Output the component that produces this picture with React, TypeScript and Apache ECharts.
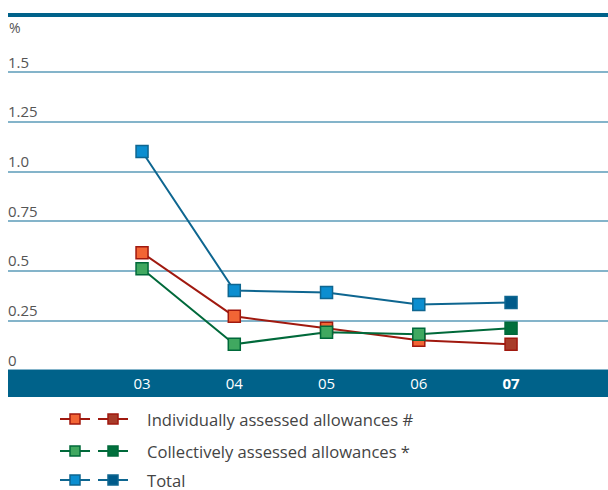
import React, { useEffect, useRef } from "react";
import * as echarts from "echarts";

const years = ["03", "04", "05", "06", "07"];
const yearPos = [3, 4, 5, 6, 7];
const individual = [0.59, 0.27, 0.21, 0.15, 0.13];
const collective = [0.51, 0.13, 0.19, 0.18, 0.21];
const total = [1.1, 0.4, 0.39, 0.33, 0.34];
const yTickLabels = ["0", "0.25", "0.5", "0.75", "1.0", "1.25", "1.5"];
const legendNames = [
  "Individually assessed allowances #",
  "Collectively assessed allowances *",
  "Total",
];

const BAND = "#00628a";
const FONT = "'Open Sans', 'Noto Sans', sans-serif";

const styles = [
  { line: "#a0190f", light: "#f26535", dark: "#a83c2a" },
  { line: "#00693a", light: "#40a860", dark: "#00703c" },
  { line: "#0e6690", light: "#0b8ed0", dark: "#005b8a" },
];

function makeSeries(name: string, values: number[], st: { line: string; light: string; dark: string }) {
  return {
    name,
    type: "line",
    symbol: "rect",
    symbolSize: 12,
    lineStyle: { color: st.line, width: 2 },
    itemStyle: { color: st.light, borderColor: st.line, borderWidth: 1.5 },
    data: values.map((v, i) => ({
      value: [yearPos[i], v],
      itemStyle: i === values.length - 1 ? { color: st.dark, borderColor: st.line, borderWidth: 1.5 } : undefined,
    })),
    z: 3,
  };
}

function legendItem(idx: number, y: number) {
  const st = styles[idx];
  const icon = (cx: number, fill: string) => [
    { type: "line", shape: { x1: cx - 15, y1: y, x2: cx + 15, y2: y }, style: { stroke: st.line, lineWidth: 2 } },
    { type: "rect", shape: { x: cx - 5, y: y - 5, width: 10, height: 10 }, style: { fill, stroke: st.line, lineWidth: 1.5 } },
  ];
  return [
    ...icon(75, st.light),
    ...icon(113, st.dark),
    {
      type: "text",
      x: 147,
      y,
      style: { text: legendNames[idx], fill: "#444", font: `16.6px ${FONT}`, verticalAlign: "middle" },
    },
  ];
}

export default function App() {
  const ref = useRef<HTMLDivElement>(null);
  useEffect(() => {
    if (!ref.current) return;
    const chart = echarts.init(ref.current, null, { renderer: "svg" });
    chart.setOption({
      animation: false,
      grid: { left: 8, right: 0, top: 72, bottom: 120 },
      xAxis: {
        type: "value",
        min: 1.547,
        max: 8.051,
        z: 10,
        axisLine: { show: false },
        axisTick: { show: false },
        splitLine: { show: false },
        axisLabel: {
          customValues: yearPos,
          margin: 5,
          color: "#fff",
          fontFamily: FONT,
          fontSize: 15,
          formatter: (v: number) => {
            const i = yearPos.indexOf(Math.round(v));
            if (i < 0) return "";
            return i === years.length - 1 ? `{b|${years[i]}}` : years[i];
          },
          rich: { b: { color: "#fff", fontWeight: "bold", fontFamily: FONT, fontSize: 15 } },
        },
      },
      yAxis: {
        type: "value",
        min: 0,
        max: 1.5,
        interval: 0.25,
        axisLine: { show: false },
        axisTick: { show: false },
        splitLine: { lineStyle: { color: "#5b9bb8", width: 1.5 } },
        axisLabel: {
          inside: true,
          margin: 0,
          verticalAlign: "bottom",
          padding: [0, 0, 3, 0],
          color: "#555",
          fontFamily: FONT,
          fontSize: 15,
          formatter: (v: number) => yTickLabels[Math.round(v / 0.25)] ?? "",
        },
      },
      graphic: [
        { type: "rect", z: 1, shape: { x: 8, y: 13, width: 600, height: 4 }, style: { fill: BAND } },
        { type: "rect", z: 1, shape: { x: 8, y: 370, width: 600, height: 27 }, style: { fill: BAND } },
        { type: "text", x: 9, y: 27, style: { text: "%", fill: "#555", font: `14px ${FONT}`, verticalAlign: "middle" } },
        ...legendItem(0, 419),
        ...legendItem(1, 451),
        ...legendItem(2, 480),
      ],
      series: [
        makeSeries(legendNames[2], total, styles[2]),
        makeSeries(legendNames[0], individual, styles[0]),
        makeSeries(legendNames[1], collective, styles[1]),
      ],
    });
    return () => chart.dispose();
  }, []);
  return <div ref={ref} style={{ position: "absolute", left: 0, top: 0, width: 608, height: 490 }} />;
}
